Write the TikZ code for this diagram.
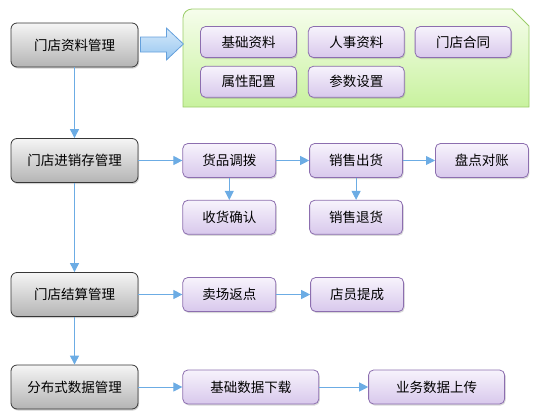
\documentclass[tikz,border=0pt]{standalone}
\usepackage{fontspec}
\newfontfamily\cjk{Noto Sans CJK SC}
\usepackage{tikz}
\usetikzlibrary{arrows.meta, positioning, calc, shadows}
\usepackage{xcolor}
\definecolor{cMainTop}{RGB}{245, 245, 245}
\definecolor{cMainBot}{RGB}{180, 180, 180}
\definecolor{bMain}{RGB}{55, 55, 55}
\definecolor{cSubTop}{RGB}{247, 243, 252}
\definecolor{cSubBot}{RGB}{216, 200, 236}
\definecolor{bSub}{RGB}{140, 110, 175}
\definecolor{cPanelTop}{RGB}{246, 253, 236}
\definecolor{cPanelBot}{RGB}{200, 242, 158}
\definecolor{bPanel}{RGB}{155, 205, 105}
\definecolor{cBigTop}{RGB}{214, 233, 250}
\definecolor{cBigBot}{RGB}{150, 198, 240}
\definecolor{bBig}{RGB}{100, 160, 220}
\definecolor{cArrow}{RGB}{108, 172, 228}

\begin{document}
\begin{tikzpicture}[
    x=1pt, y=-1pt,
    font=\cjk\fontsize{13.5}{15}\selectfont,
    mainbox/.style={
        draw=bMain,
        line width=0.8pt,
        rounded corners=6pt,
        top color=cMainTop, bottom color=cMainBot,
        drop shadow={shadow xshift=1pt, shadow yshift=-1.5pt, opacity=0.35},
        minimum width=127pt, minimum height=44pt,
        inner sep=0pt
    },
    subbox/.style={
        draw=bSub,
        line width=0.8pt,
        rounded corners=5pt,
        top color=cSubTop, bottom color=cSubBot,
        drop shadow={shadow xshift=1pt, shadow yshift=-1.5pt, opacity=0.3},
        minimum width=#1, minimum height=34pt,
        inner sep=0pt
    },
    subbox/.default=93pt,
    arrow/.style={-{Triangle[length=9pt,width=9pt]}, line width=0.9pt, color=cArrow}
]
\useasboundingbox (0,0) rectangle (543,418);

% Left column: main modules
\node[mainbox] (m_info) at (74.5, 45) {门店资料管理};
\node[mainbox] (m_stock) at (74.5, 160.5) {门店进销存管理};
\node[mainbox] (m_settle) at (74.5, 294.5) {门店结算管理};
\node[mainbox] (m_dist) at (74.5, 387) {分布式数据管理};

\draw[arrow] (m_info) -- (m_stock);
\draw[arrow] (m_stock) -- (m_settle);
\draw[arrow] (m_settle) -- (m_dist);

% Green panel with the basic data items
\shade[top color=cPanelTop, bottom color=cPanelBot]
    (183,107) [rounded corners=9pt] -- (183,9) [sharp corners] -- (512,9) -- (529,26) -- (529,107) -- cycle;
\draw[draw=bPanel, line width=0.8pt]
    (183,107) [rounded corners=9pt] -- (183,9) [sharp corners] -- (512,9) -- (529,26) -- (529,107) -- cycle;

\node[subbox=96pt, minimum height=31pt] (i_base) at (248.5, 42) {基础资料};
\node[subbox=96pt, minimum height=31pt, right=11pt of i_base] (i_staff) {人事资料};
\node[subbox=96pt, minimum height=31pt, right=10pt of i_staff] (i_contract) {门店合同};
\node[subbox=96pt, minimum height=31pt, below=8pt of i_base] (i_attr) {属性配置};
\node[subbox=96pt, minimum height=31pt, right=11pt of i_attr] (i_param) {参数设置};

% Big arrow into the panel
\draw[draw=bBig, line width=0.8pt, top color=cBigTop, bottom color=cBigBot]
    ($(m_info.east)+(2,-8)$) -- ++(26,0) -- ++(0,-9) -- ++(17,16) -- ++(-17,16)
    -- ++(0,-8) -- ++(-26,0) -- cycle;

% Stock management
\node[subbox, right=44pt of m_stock] (s_transfer) {货品调拨};
\node[subbox, right=33pt of s_transfer] (s_sale) {销售出货};
\node[subbox, right=32pt of s_sale] (s_check) {盘点对账};
\node[subbox, below=22pt of s_transfer] (s_receive) {收货确认};
\node[subbox, below=22pt of s_sale] (s_return) {销售退货};

\draw[arrow] (m_stock) -- (s_transfer);
\draw[arrow] (s_transfer) -- (s_sale);
\draw[arrow] (s_sale) -- (s_check);
\draw[arrow] (s_transfer) -- (s_receive);
\draw[arrow] (s_sale) -- (s_return);

% Settlement
\node[subbox, right=44pt of m_settle] (c_rebate) {卖场返点};
\node[subbox, right=34pt of c_rebate] (c_commission) {店员提成};

\draw[arrow] (m_settle) -- (c_rebate);
\draw[arrow] (c_rebate) -- (c_commission);

% Distributed data
\node[subbox=136pt, right=44pt of m_dist] (d_down) {基础数据下载};
\node[subbox=136pt, right=49pt of d_down] (d_up) {业务数据上传};

\draw[arrow] (m_dist) -- (d_down);
\draw[arrow] (d_down) -- (d_up);

\end{tikzpicture}
\end{document}
